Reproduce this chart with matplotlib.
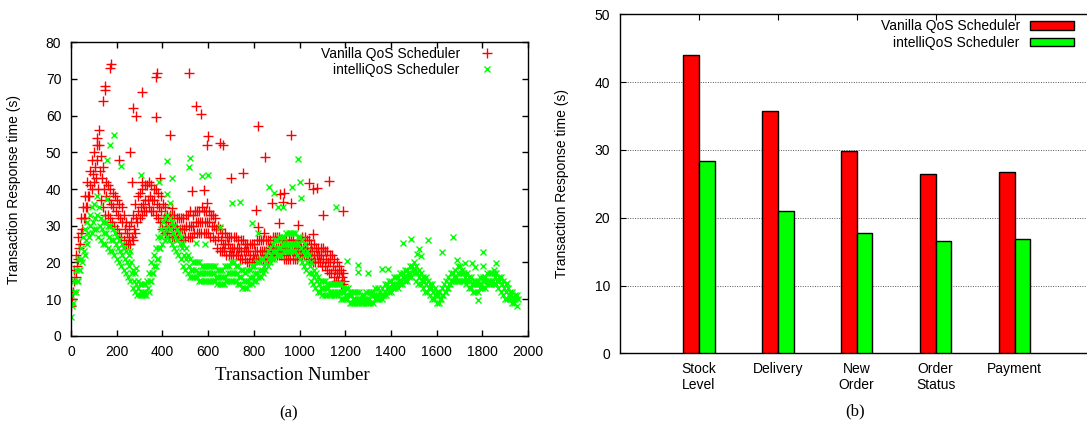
import numpy as np
import matplotlib
matplotlib.use("Agg")
import matplotlib.pyplot as plt
from matplotlib.lines import Line2D

plt.rcParams['font.family'] = ['Liberation Sans', 'DejaVu Sans']

# ---------------- (a) scatter data ----------------
red_x = np.arange(0, 1200, 10)
red_lo = [8,12,16,21,25,29,32,35,38,40,
          42,43,40,37,35,33,33,32,31,30,
          29,28,27,26,25,25,25,26,28,31,
          32,33,34,34,35,34,34,33,32,31,
          29,28,28,27,27,27,27,27,26,26,
          27,27,27,27,28,28,28,28,28,28,
          28,27,27,26,24,23,23,23,22,22,
          22,22,22,22,21,21,21,20,20,20,
          21,21,21,21,21,21,21,21,22,22,
          22,22,22,21,21,21,21,21,21,21,
          22,22,22,22,21,21,20,20,20,20,
          19,19,18,17,17,16,15,15,14,14]
red_mid = [10,15,19,24,28,32,35,38,41,44,
           46,48,45,43,40,38,37,36,35,34,
           33,32,31,29,28,27,27,29,32,34,
           35,36,37,37,38,37,37,36,35,34,
           32,31,30,30,30,30,29,29,29,29,
           30,30,30,30,31,31,31,31,31,31,
           31,30,30,29,27,26,25,25,25,24,
           24,24,24,24,23,23,23,23,22,22,
           23,23,23,23,23,23,24,24,24,24,
           24,24,24,24,23,23,23,23,23,23,
           24,24,24,24,23,23,22,22,22,22,
           21,21,20,20,19,18,17,17,16,15]
red_hi = [12,18,22,27,32,35,38,42,45,48,
          50,52,52,49,46,42,41,40,39,38,
          37,36,35,33,31,30,31,33,36,38,
          39,40,41,41,42,41,40,40,39,38,
          36,35,33,33,33,33,32,32,32,32,
          33,33,34,33,34,34,34,35,34,34,
          34,33,33,32,30,29,28,28,27,27,
          27,27,27,26,26,26,25,25,25,25,
          25,26,26,26,26,26,26,26,27,27,
          27,27,26,26,26,26,26,26,25,26,
          26,27,27,26,26,25,25,24,24,24,
          24,23,23,22,22,21,20,19,18,17]
red_out_x = [115,121,139,150,150,171,174,211,258,266,273,284,309,312,370,374,378,
             390,432,442,515,531,546,570,583,594,595,598,652,667,699,751,810,818,
             820,846,849,878,910,915,926,932,963,964,992,1043,1061,1077,1060,1101,
             1128,1192]
red_out_y = [54,56,64,67,68,73,74,48,50,42,62,60,42,66.5,59.6,70.6,71.5,
             43,54.7,34.7,71.6,39.5,62.5,60.4,39.7,52,36.2,54.5,52.5,52,43,44.3,34.4,57.1,
             29.7,28.1,48.6,36.1,30.8,38.6,36.5,38.8,36.1,54.6,30.3,41.7,40,40.3,27.6,33,
             42.3,34]

green_x = np.arange(0, 1960, 10)
green_lo = [5,9,12,15,18,20,22,25,27,28,
            29,29,27,26,25,25,24,23,23,22,
            21,20,19,18,17,16,15,13,12,11,
            11,11,11,11,12,15,17,19,21,24,
            25,26,27,26,25,24,23,22,21,19,
            18,17,16,16,16,16,15,15,15,15,
            15,15,15,15,14,14,14,14,15,15,
            15,15,15,14,14,13,13,13,14,14,
            15,15,16,16,17,18,19,20,21,21,
            22,22,22,23,23,23,23,23,23,22,
            21,20,19,18,17,15,14,13,12,12,
            11,11,11,11,11,11,11,11,10,10,
            10,10,9,9,9,9,9,9,9,9,
            9,9,9,10,10,10,10,11,11,12,
            12,13,13,13,14,14,15,15,16,16,
            17,15,14,14,13,12,12,11,10,10,
            9,9,10,11,12,13,14,15,15,15,
            15,15,15,14,13,13,12,12,12,13,
            13,13,14,14,14,14,14,13,12,11,
            10,10,10,9,9,8]
green_mid = [8,12,15,18,21,23,26,28,30,31,
             32,33,30,29,28,28,27,26,26,25,
             24,23,22,21,20,19,17,15,14,13,
             12,12,12,13,15,17,19,21,24,27,
             28,29,30,29,28,27,26,25,24,22,
             21,19,18,18,18,17,17,17,17,17,
             17,17,17,16,16,16,16,16,17,17,
             17,17,17,16,16,15,15,15,16,16,
             17,17,18,18,19,20,21,22,23,23,
             24,24,25,25,25,25,25,25,25,25,
             24,23,22,20,19,17,16,15,14,13,
             13,13,13,12,12,12,12,12,12,12,
             11,11,11,10,10,10,10,10,10,10,
             10,11,11,11,11,11,11,12,13,13,
             14,14,14,15,15,16,16,17,17,18,
             18,17,16,15,15,14,13,13,12,11,
             11,10,11,12,13,14,15,16,16,17,
             17,17,16,15,15,14,14,14,14,14,
             15,15,15,15,15,16,15,15,14,13,
             12,11,11,10,10,10]
green_hi = [11,15,18,21,24,27,29,31,33,35,
            36,38,35,32,31,31,30,30,29,28,
            27,26,25,24,23,22,20,18,17,15,
            14,14,14,15,17,20,22,24,27,29,
            31,32,33,32,31,30,29,28,27,25,
            24,22,21,20,20,20,20,19,19,19,
            19,19,19,19,18,18,18,19,19,19,
            20,20,19,19,18,18,17,18,18,19,
            19,20,20,21,21,22,23,24,25,26,
            26,27,27,27,28,28,28,28,28,27,
            27,26,25,23,22,20,18,17,16,15,
            15,15,14,14,14,14,14,14,14,13,
            13,13,12,12,12,12,12,11,11,12,
            12,12,12,13,13,12,13,14,14,15,
            15,16,16,16,17,17,18,18,19,19,
            20,19,18,17,16,16,15,14,14,13,
            12,12,13,14,15,16,17,17,18,19,
            19,18,17,17,16,16,15,15,15,16,
            16,16,17,17,17,17,17,16,16,15,
            14,13,12,12,11,11]
green_out_x = [156,171,190,159,219,258,283,305,387,419,419,434,441,515,521,546,572,586,
               601,652,706,741,791,820,867,890,904,926,969,995,1000,1005,1160,1206,1257,
               1254,1301,1362,1389,1454,1488,1515,1524,1530,1564,1622,1670,1688,1724,1753,
               1768,1802,1805,1850,1860,1780,1907]
green_out_y = [47.9,51.9,54.7,37.2,46.4,23.2,18.4,43.8,41.9,47.6,38.6,36.2,42.9,45.9,48.5,25.2,43.5,24.9,
               43.8,29.7,36.1,36.5,30.8,28.1,40.5,38.8,35.2,35.1,40.5,48.1,41.8,37.5,35.0,20.5,19.3,
               17.5,17.0,18.2,18.1,25.2,26.5,22.3,23.7,21.6,26.1,22.7,26.9,20.6,19.9,19.9,
               18.8,19.1,22.7,17.9,19.7,9.7,14.3]

# ---------------- (b) bar data ----------------
categories = ["Stock\nLevel", "Delivery", "New\nOrder", "Order\nStatus", "Payment"]
vanilla = [44.0, 35.7, 29.8, 26.4, 26.7]
intelli = [28.3, 21.0, 17.8, 16.6, 16.8]

series_names = ["Vanilla QoS Scheduler", "intelliQoS Scheduler"]
RED = "#ff0000"
GREEN = "#00ff00"

W, H = 1087, 428
fig = plt.figure(figsize=(W / 100, H / 100), dpi=100)

# ---------------- left panel ----------------
axL = fig.add_axes([71 / W, 1 - 335.7 / H, 457 / W, 293.4 / H])
mk_r = dict(marker='+', linestyle='none', color=RED, markersize=6.5, markeredgewidth=1.0)
mk_g = dict(marker='x', linestyle='none', color=GREEN, markersize=5.0, markeredgewidth=1.0)
axL.plot(red_x, red_lo, **mk_r)
axL.plot(red_x + 5, red_mid, **mk_r)
axL.plot(red_x + 2, red_hi, **mk_r)
axL.plot(red_out_x, red_out_y, **mk_r)
axL.plot(green_x, green_lo, **mk_g)
axL.plot(green_x + 5, green_mid, **mk_g)
axL.plot(green_x + 2, green_hi, **mk_g)
axL.plot(green_out_x, green_out_y, **mk_g)

axL.set_xlim(0, 2000)
axL.set_ylim(0, 80)
axL.set_xticks(np.arange(0, 2001, 200))
axL.set_yticks(np.arange(0, 81, 10))
axL.tick_params(direction='in', top=True, right=True, length=4, width=1,
                labelsize=10, pad=7, colors='black')
for s in axL.spines.values():
    s.set_linewidth(1.0)
axL.set_ylabel("Transaction Response time (s)", fontsize=10)
axL.yaxis.set_label_coords(-0.109, 0.5)
axL.set_xlabel("Transaction Number", fontsize=13.5,
               family=['Liberation Serif', 'DejaVu Serif'])
axL.xaxis.set_label_coords(0.4836, -0.136)
axL.xaxis.label.set_va('center')

hL = [Line2D([], [], **mk_r), Line2D([], [], **mk_g)]
axL.legend(hL, series_names, loc='upper right', bbox_to_anchor=(0.945, 0.985),
           frameon=False, markerfirst=False, fontsize=10, handlelength=2.3,
           handletextpad=0.8, borderpad=0, borderaxespad=0, labelspacing=0.15)

# ---------------- right panel ----------------
axR = fig.add_axes([620 / W, 1 - 353.3 / H, 473.4 / W, 339 / H])
xpos = np.arange(len(categories))
bw = 0.2
axR.bar(xpos - bw / 2, vanilla, width=bw, color=RED, edgecolor='black', linewidth=1.0,
        label=series_names[0], zorder=3)
axR.bar(xpos + bw / 2, intelli, width=bw, color=GREEN, edgecolor='black', linewidth=1.0,
        label=series_names[1], zorder=3)
axR.set_xlim(-1, 5)
axR.set_ylim(0, 50)
axR.set_xticks(xpos)
axR.set_xticklabels(categories, fontsize=10, linespacing=1.25)
axR.set_yticks(np.arange(0, 51, 10))
axR.tick_params(axis='y', direction='in', right=True, length=4, labelsize=10, pad=7)
axR.tick_params(axis='x', direction='in', top=True, length=4, labelsize=10, pad=6)
axR.yaxis.grid(True, linestyle=(0, (1, 1.5)), color='#555555', linewidth=0.7, zorder=0)
axR.set_axisbelow(True)
for s in axR.spines.values():
    s.set_linewidth(1.0)
axR.set_ylabel("Transaction Response time (s)", fontsize=10)
axR.yaxis.set_label_coords(-0.108, 0.5)
axR.legend(loc='upper right', bbox_to_anchor=(0.959, 0.986), frameon=False,
           markerfirst=False, fontsize=10, handlelength=3.2, handleheight=0.6,
           handletextpad=0.7, borderpad=0, borderaxespad=0, labelspacing=0.2)

fig.text(289 / W, 1 - 413 / H, "(a)", ha='center', va='center', fontsize=12,
         family=['Liberation Serif', 'DejaVu Serif'])
fig.text(855 / W, 1 - 411 / H, "(b)", ha='center', va='center', fontsize=12,
         family=['Liberation Serif', 'DejaVu Serif'])

fig.savefig("out.png", dpi=100)
